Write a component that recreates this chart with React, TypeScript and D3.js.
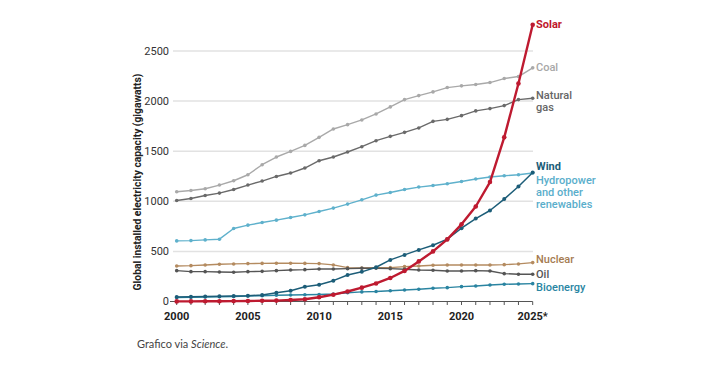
import React from 'react';
import * as d3 from 'd3';

const years = [2000, 2001, 2002, 2003, 2004, 2005, 2006, 2007, 2008, 2009, 2010, 2011, 2012, 2013, 2014, 2015, 2016, 2017, 2018, 2019, 2020, 2021, 2022, 2023, 2024, 2025];

const coal = [1095, 1108, 1125, 1162, 1205, 1265, 1365, 1442, 1498, 1558, 1638, 1722, 1765, 1812, 1872, 1942, 2015, 2055, 2092, 2135, 2152, 2165, 2185, 2225, 2245, 2332];
const gas = [1008, 1028, 1058, 1082, 1118, 1162, 1202, 1248, 1282, 1332, 1405, 1442, 1492, 1545, 1605, 1648, 1688, 1732, 1798, 1818, 1855, 1902, 1925, 1955, 2015, 2028];
const hydro = [605, 608, 615, 622, 728, 762, 788, 812, 838, 865, 898, 932, 972, 1015, 1062, 1088, 1118, 1142, 1158, 1175, 1198, 1222, 1242, 1255, 1265, 1282];
const nuclear = [355, 358, 365, 372, 375, 378, 380, 382, 382, 380, 378, 365, 338, 335, 338, 338, 348, 355, 362, 365, 365, 365, 365, 368, 375, 388];
const oil = [308, 298, 298, 295, 292, 298, 301, 308, 315, 318, 325, 325, 328, 332, 332, 328, 322, 315, 312, 305, 305, 308, 305, 278, 272, 272];
const bio = [40, 42, 45, 48, 50, 55, 58, 62, 65, 68, 70, 75, 88, 96, 100, 108, 115, 122, 132, 138, 148, 155, 165, 172, 175, 178];
const wind = [45, 48, 50, 52, 55, 58, 65, 88, 108, 148, 168, 208, 265, 296, 342, 415, 465, 515, 562, 622, 732, 828, 908, 1022, 1148, 1288];
const solar = [1, 1, 2, 3, 4, 5, 7, 9, 15, 22, 42, 68, 100, 138, 180, 235, 305, 400, 500, 620, 770, 948, 1192, 1638, 2175, 2762];

const yTicks = [0, 500, 1000, 1500, 2000, 2500];
const xTicks = [2000, 2005, 2010, 2015, 2020, 2025];
const xTickLabels = ['2000', '2005', '2010', '2015', '2020', '2025*'];

const series = [
  { name: 'coal', values: coal, color: '#a9a9a9', width: 1.4, r: 1.8 },
  { name: 'gas', values: gas, color: '#6a6a6a', width: 1.4, r: 1.8 },
  { name: 'hydro', values: hydro, color: '#5fb1cc', width: 1.4, r: 1.8 },
  { name: 'nuclear', values: nuclear, color: '#b48b60', width: 1.4, r: 1.8 },
  { name: 'oil', values: oil, color: '#555555', width: 1.4, r: 1.8 },
  { name: 'bio', values: bio, color: '#2a84a1', width: 1.4, r: 1.8 },
  { name: 'wind', values: wind, color: '#1c5d78', width: 1.5, r: 2 },
  { name: 'solar', values: solar, color: '#be1a30', width: 2.4, r: 2.3 },
];

const labels = [
  { lines: ['Solar'], y: 24, color: '#c0172c', weight: 700 },
  { lines: ['Coal'], y: 67, color: '#a8a8a8', weight: 500 },
  { lines: ['Natural', 'gas'], y: 95, color: '#666666', weight: 500 },
  { lines: ['Wind'], y: 166, color: '#1b5d78', weight: 700 },
  { lines: ['Hydropower', 'and other', 'renewables'], y: 180, color: '#5aaecb', weight: 500 },
  { lines: ['Nuclear'], y: 259, color: '#a57c52', weight: 500 },
  { lines: ['Oil'], y: 274, color: '#555555', weight: 500 },
  { lines: ['Bioenergy'], y: 287, color: '#2a86a3', weight: 500 },
];

const App = () => {
  const x = d3.scaleLinear().domain([2000, 2025]).range([176.7, 532.7]);
  const y = d3.scaleLinear().domain([0, 2500]).range([301.5, 51]);
  const line = d3.line<number>()
    .x((_, i) => x(years[i]))
    .y(d => y(d));
  const font = 'Roboto, "Noto Sans", sans-serif';

  return (
    <svg width={724} height={366} style={{ position: 'absolute', left: 0, top: 0, background: '#fff' }}>
      {yTicks.filter(t => t > 0).map(t => (
        <line key={t} x1={173} x2={533} y1={y(t)} y2={y(t)} stroke="#e2e2e2" strokeWidth={1.5} />
      ))}
      {yTicks.map(t => (
        <text key={t} x={169} y={y(t)} dy="0.35em" textAnchor="end" fontFamily={font} fontSize={11} fill="#333">
          {t}
        </text>
      ))}
      <line x1={170} x2={175} y1={y(0)} y2={y(0)} stroke="#555" strokeWidth={1} />
      <line x1={x(2000)} x2={x(2025)} y1={y(0)} y2={y(0)} stroke="#555" strokeWidth={1.2} />
      {years.map(yr => (
        <line key={yr} x1={x(yr)} x2={x(yr)} y1={y(0)} y2={y(0) + 3.5} stroke="#555" strokeWidth={1} />
      ))}
      {xTicks.map((t, i) => (
        <text key={t} x={x(t)} y={316} dy="0.35em" textAnchor="middle" fontFamily={font} fontWeight={700} fontSize={11} fill="#222">
          {xTickLabels[i]}
        </text>
      ))}
      <text
        transform="translate(137,182) rotate(-90)"
        textAnchor="middle"
        dy="0.35em"
        fontFamily={font}
        fontWeight={700}
        fontSize={10.3}
        fill="#222"
      >
        Global installed electricity capacity (gigawatts)
      </text>
      {series.map(s => (
        <g key={s.name}>
          <path d={line(s.values) || ''} fill="none" stroke={s.color} strokeWidth={s.width} strokeLinejoin="round" />
          {s.values.map((v, i) => (
            <circle key={i} cx={x(years[i])} cy={y(v)} r={s.r} fill={s.color} />
          ))}
        </g>
      ))}
      {labels.map(l => (
        <text key={l.lines[0]} x={536} y={l.y} fontFamily={font} fontWeight={l.weight} fontSize={11} fill={l.color}>
          {l.lines.map((t, i) => (
            <tspan key={i} x={536} dy={i === 0 ? '0.35em' : 12}>{t}</tspan>
          ))}
        </text>
      ))}
      <text x={137} y={344} dy="0.35em" fontFamily='Lato, "Open Sans", sans-serif' fontSize={11} fill="#444">
        Grafico via <tspan fontStyle="italic">Science</tspan>.
      </text>
    </svg>
  );
};

export default App;
